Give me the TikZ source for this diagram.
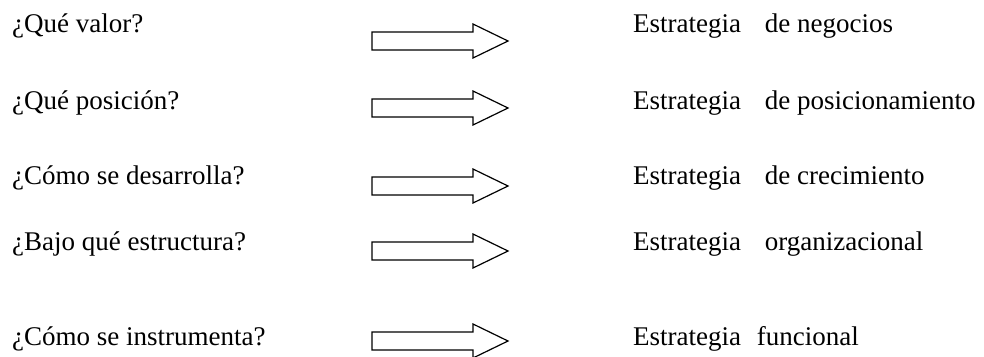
\documentclass[tikz,border=0pt]{standalone}
\usepackage{fontspec}
\setmainfont{Liberation Serif}
\begin{document}
\begin{tikzpicture}
    [ x=1pt, y=-1pt
    , every node/.style={anchor=base west, inner sep=0pt, font=\fontsize{27}{32}\selectfont}
    , hollowarrow/.style={draw, line width=1.2pt, fill=white, line join=miter}
    ]
\useasboundingbox (0,0) rectangle (984,356);
% left column: the questions
\node (q1) at (12,32)  {¿Qué valor?};
\node (q2) at (12,109) {¿Qué posición?};
\node (q3) at (12,184) {¿Cómo se desarrolla?};
\node (q4) at (12,250) {¿Bajo qué estructura?};
\node (q5) at (12,345) {¿Cómo se instrumenta?};
% right column: the strategies
\node (e1) at (633,32)  {Estrategia\hspace{17pt} de negocios};
\node (e2) at (633,109) {Estrategia\hspace{17pt} de posicionamiento};
\node (e3) at (633,184) {Estrategia\hspace{17pt} de crecimiento};
\node (e4) at (633,250) {Estrategia\hspace{17pt} organizacional};
\node (e5) at (633,345) {Estrategia\hspace{9pt} funcional};
% block arrows in between
\foreach \y in {41,108,186,251,341}
  \draw[hollowarrow] (372,\y-9) -- (473,\y-9) -- (473,\y-17) -- (508,\y)
    -- (473,\y+17) -- (473,\y+9) -- (372,\y+9) -- cycle;
\end{tikzpicture}
\end{document}
